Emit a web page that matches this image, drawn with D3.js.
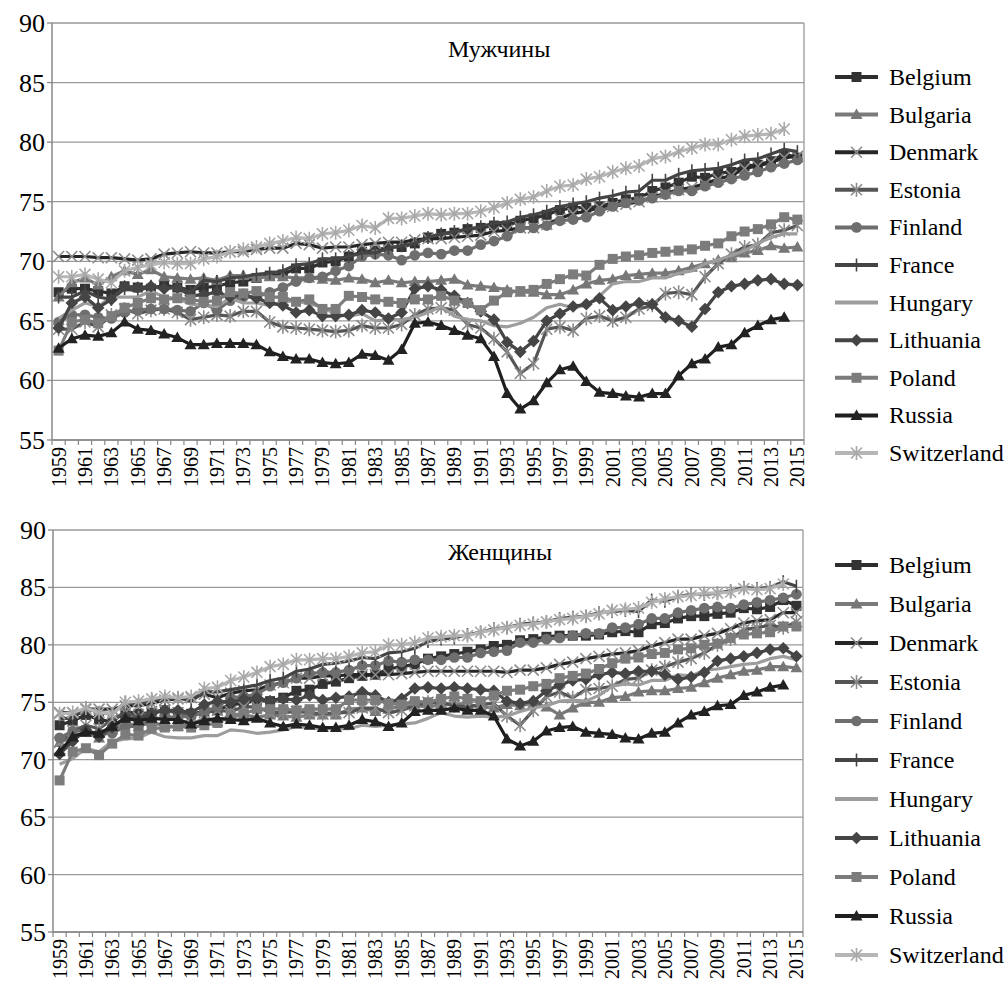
<!DOCTYPE html>
<html>
<head>
<meta charset="utf-8">
<script src="https://cdn.jsdelivr.net/npm/d3@7"></script>
</head>
<body style="margin:0">
<div class="plot"></div>
<script>
// Years on the x axis
const years = [1959,1960,1961,1962,1963,1964,1965,1966,1967,1968,1969,1970,1971,1972,1973,1974,1975,1976,1977,1978,1979,
  1980,1981,1982,1983,1984,1985,1986,1987,1988,1989,1990,1991,1992,1993,1994,1995,1996,1997,1998,1999,
  2000,2001,2002,2003,2004,2005,2006,2007,2008,2009,2010,2011,2012,2013,2014,2015];
const yTicks = [55, 60, 65, 70, 75, 80, 85, 90];
const countries = ["Belgium","Bulgaria","Denmark","Estonia","Finland","France","Hungary","Lithuania","Poland","Russia","Switzerland"];

// Life expectancy, men
const menBelgium = [67.4,67.7,67.7,67.5,67.3,67.9,67.8,67.7,68.0,67.8,67.6,67.8,67.9,68.2,68.3,68.6,68.8,68.9,69.4,69.4,69.9,
  70.0,70.4,70.8,70.9,71.2,71.2,71.5,72.0,72.3,72.4,72.7,72.8,73.0,73.0,73.4,73.6,73.9,74.3,74.5,74.5,
  74.6,74.9,75.2,75.3,75.9,76.2,76.6,77.1,77.0,77.4,77.5,78.0,78.1,78.4,79.0,78.7];
const menBulgaria = [67.0,68.2,68.6,68.0,68.7,69.2,68.9,69.3,68.7,68.6,68.5,68.6,68.4,68.8,68.8,68.6,68.7,68.7,68.6,68.6,68.5,
  68.4,68.6,68.5,68.2,68.4,68.2,68.3,68.3,68.4,68.5,68.0,67.9,67.8,67.6,67.4,67.4,67.2,67.2,67.6,68.1,
  68.4,68.5,68.8,68.9,69.0,69.0,69.2,69.5,69.8,70.1,70.3,70.7,70.9,71.3,71.1,71.2];
const menDenmark = [70.4,70.4,70.4,70.3,70.3,70.2,70.1,70.2,70.6,70.7,70.8,70.7,70.7,70.8,70.8,71.0,71.1,71.1,71.5,71.4,71.1,
  71.2,71.2,71.4,71.5,71.6,71.6,71.8,71.9,71.9,72.0,72.1,72.2,72.5,72.6,72.8,72.8,73.1,73.6,74.0,74.2,
  74.5,74.6,74.8,75.0,75.4,75.7,76.0,76.2,76.5,76.9,77.2,77.8,78.0,78.3,78.7,78.8];
const menEstonia = [64.3,64.3,64.9,64.5,65.5,66.0,65.6,65.9,66.0,65.7,65.1,65.3,65.5,65.4,65.8,65.8,64.9,64.5,64.4,64.3,64.2,
  64.1,64.2,64.6,64.4,64.4,64.7,65.5,66.0,66.1,65.9,64.7,64.4,63.5,62.4,60.6,61.4,64.3,64.5,64.2,65.2,
  65.4,65.0,65.3,66.0,66.3,67.3,67.4,67.2,68.7,69.8,70.6,71.2,71.4,72.4,72.6,73.0];
const menFinland = [64.9,65.5,65.5,65.3,65.2,65.7,65.9,66.0,66.0,65.9,65.8,66.5,65.9,66.7,67.0,67.0,67.4,67.8,68.3,68.6,68.7,
  69.2,69.6,70.4,70.6,70.5,70.1,70.5,70.7,70.6,70.9,70.9,71.4,71.7,72.1,72.8,72.8,73.0,73.4,73.5,73.7,
  74.2,74.6,74.9,75.1,75.3,75.6,75.9,75.9,76.3,76.6,76.9,77.2,77.5,77.9,78.2,78.5];
const menFrance = [67.0,67.0,67.5,67.0,66.8,67.7,67.5,67.9,67.8,67.8,67.4,68.4,68.3,68.6,68.7,68.9,69.0,69.2,69.7,69.8,70.2,
  70.2,70.4,70.7,70.7,71.1,71.3,71.5,72.0,72.3,72.5,72.7,72.9,73.2,73.3,73.7,73.9,74.2,74.6,74.8,75.0,
  75.3,75.5,75.8,75.9,76.8,76.8,77.3,77.6,77.7,77.8,78.1,78.5,78.6,79.0,79.4,79.2];
const menHungary = [65.2,65.9,66.5,66.2,67.0,67.0,67.0,67.5,67.0,66.9,66.4,66.3,66.2,66.9,66.5,66.5,66.3,66.6,66.7,66.4,66.2,
  65.5,65.4,65.6,65.0,65.1,65.1,65.3,65.7,66.2,65.4,65.1,65.0,64.6,64.5,64.8,65.3,66.1,66.4,66.1,66.3,
  67.1,68.1,68.3,68.3,68.6,68.6,69.0,69.2,69.8,70.1,70.5,70.9,71.5,72.0,72.3,72.3];
const menLithuania = [64.4,66.5,67.0,66.1,66.8,67.9,67.8,67.9,67.7,67.8,67.1,67.2,67.4,67.0,67.2,66.9,66.5,66.3,65.7,65.9,65.4,
  65.4,65.5,65.9,65.7,65.2,65.7,67.7,67.9,67.6,67.1,66.5,65.8,65.1,63.2,62.4,63.3,65.0,65.6,66.2,66.4,
  66.9,65.9,66.2,66.5,66.4,65.3,65.0,64.5,66.0,67.4,67.9,68.1,68.4,68.5,68.1,68.0];
const menPoland = [62.5,64.9,65.1,64.8,65.4,66.1,66.5,66.9,66.8,66.9,66.8,66.6,66.7,67.4,67.3,67.5,67.0,67.0,66.6,66.8,66.0,
  66.0,67.1,67.0,66.8,66.6,66.5,66.8,66.8,67.1,66.7,66.5,65.9,66.7,67.4,67.5,67.6,68.1,68.5,68.9,68.8,
  69.7,70.2,70.4,70.5,70.7,70.8,70.9,71.0,71.3,71.5,72.1,72.5,72.7,73.1,73.7,73.5];
const menRussia = [62.7,63.5,63.8,63.7,64.0,64.9,64.3,64.2,63.9,63.6,63.0,63.0,63.1,63.1,63.1,63.0,62.4,62.0,61.8,61.8,61.5,
  61.4,61.5,62.2,62.1,61.7,62.6,64.8,64.9,64.6,64.2,63.8,63.5,62.0,58.9,57.6,58.3,59.8,60.9,61.2,59.9,
  59.0,58.9,58.7,58.6,58.9,58.9,60.4,61.4,61.8,62.8,63.0,64.0,64.6,65.1,65.3,null];
const menSwitzerland = [68.7,68.7,68.9,68.5,68.2,69.2,69.5,69.7,69.9,69.8,69.8,70.2,70.4,70.8,71.0,71.2,71.5,71.7,72.0,71.9,72.3,
  72.4,72.6,73.0,72.8,73.6,73.6,73.8,74.0,73.9,74.0,74.0,74.2,74.5,74.9,75.2,75.4,75.9,76.3,76.4,76.9,
  77.1,77.5,77.8,78.0,78.6,78.8,79.2,79.5,79.8,79.8,80.2,80.5,80.6,80.7,81.1,null];

// Life expectancy, women
const womenBelgium = [73.0,73.4,73.9,73.5,73.3,74.2,74.0,74.1,74.3,74.1,74.0,74.2,74.3,74.8,74.9,75.2,75.1,75.4,76.0,76.1,76.6,
  76.8,77.1,77.3,77.4,77.9,78.1,78.3,78.8,79.0,79.2,79.4,79.6,79.9,80.0,80.4,80.5,80.7,80.8,80.8,80.8,
  80.9,81.1,81.2,81.1,81.8,81.9,82.3,82.5,82.5,82.7,82.8,83.2,83.1,83.3,83.9,83.4];
const womenBulgaria = [71.5,72.0,72.4,71.9,72.6,73.2,72.9,73.3,72.9,72.9,73.1,73.6,73.3,73.7,73.9,73.7,73.9,73.8,73.7,73.9,73.9,
  73.9,74.4,74.5,74.2,74.4,74.7,74.7,74.6,74.8,74.8,74.8,74.6,74.5,74.8,74.7,74.9,74.6,73.9,74.5,75.0,
  75.0,75.4,75.5,75.9,76.0,76.0,76.2,76.3,76.7,77.1,77.4,77.7,77.8,78.1,78.1,78.0];
const womenDenmark = [74.1,74.1,74.4,74.4,74.4,74.7,74.7,74.9,75.2,75.3,75.4,75.7,75.4,75.8,76.0,76.1,76.5,76.7,77.1,77.1,77.3,
  77.3,77.4,77.4,77.4,77.4,77.5,77.6,77.7,77.7,77.7,77.7,77.7,77.7,77.6,77.8,77.8,78.0,78.3,78.5,78.8,
  79.0,79.2,79.3,79.5,79.9,80.2,80.5,80.5,80.8,81.0,81.4,81.9,82.1,82.2,82.8,82.8];
const womenEstonia = [71.5,72.5,73.0,72.7,73.5,74.1,73.7,74.2,74.3,74.1,73.8,74.1,74.3,74.2,74.6,74.6,74.1,74.1,74.2,74.1,74.0,
  74.1,74.1,74.5,74.5,74.1,74.3,74.7,75.0,75.0,74.7,74.6,74.8,74.9,73.8,73.0,74.3,75.5,75.9,75.4,76.1,
  76.2,76.4,77.0,77.1,77.8,78.1,78.5,78.8,79.3,80.0,80.5,81.3,81.5,81.7,81.5,82.0];
const womenFinland = [71.9,72.5,72.5,72.3,72.3,72.9,72.9,73.5,73.7,73.7,73.8,74.2,74.6,75.4,75.5,75.7,76.4,76.7,77.1,77.5,77.6,
  77.6,77.8,78.2,78.2,78.6,78.5,78.7,78.7,78.7,78.9,78.9,79.3,79.4,79.5,80.2,80.2,80.5,80.6,80.8,81.0,
  81.0,81.5,81.5,81.8,82.3,82.3,82.8,83.0,83.2,83.3,83.2,83.5,83.7,83.9,84.1,84.4];
const womenFrance = [73.6,73.6,74.5,74.1,74.0,75.0,74.8,75.2,75.3,75.4,75.1,75.9,75.9,76.1,76.3,76.5,76.9,77.1,77.7,77.9,78.3,
  78.4,78.6,78.9,78.8,79.3,79.4,79.7,80.3,80.5,80.6,80.9,81.1,81.4,81.5,81.8,81.9,82.0,82.3,82.4,82.5,
  82.8,82.9,83.0,82.9,83.9,83.8,84.2,84.4,84.4,84.5,84.7,85.0,84.9,85.0,85.5,85.1];
const womenHungary = [69.6,70.1,71.0,70.7,71.6,71.8,71.9,72.4,72.0,71.9,71.9,72.1,72.1,72.6,72.5,72.3,72.4,72.6,72.9,72.8,72.7,
  72.7,72.7,73.0,72.9,73.0,73.1,73.2,73.6,74.1,73.8,73.7,73.8,73.7,73.8,74.2,74.5,74.7,75.1,75.2,75.1,
  75.6,76.4,76.6,76.5,76.9,76.9,77.4,77.3,77.8,77.9,78.1,78.3,78.4,78.8,79.0,78.7];
const womenLithuania = [70.5,71.6,72.6,72.0,72.8,73.7,73.5,74.0,74.3,74.3,74.1,74.8,75.1,75.0,75.3,75.4,75.1,75.3,75.2,75.6,75.2,
  75.4,75.5,75.9,75.6,75.0,75.3,76.2,76.3,76.2,76.3,76.2,76.1,76.0,75.1,74.9,75.1,76.0,76.5,76.9,77.0,
  77.4,77.6,77.5,77.7,77.7,77.4,77.0,77.2,77.6,78.6,78.8,79.0,79.3,79.6,79.7,79.0];
const womenPoland = [68.2,70.7,71.0,70.4,71.4,72.2,72.1,72.7,72.8,72.9,72.8,73.0,73.2,73.9,74.0,74.4,74.4,74.4,74.3,74.4,74.4,
  74.4,75.2,75.2,75.2,74.9,74.8,75.1,75.0,75.3,75.5,75.3,75.1,75.6,76.0,76.1,76.4,76.6,77.1,77.3,77.5,
  77.9,78.4,78.8,78.9,79.2,79.3,79.6,79.7,80.0,80.1,80.6,80.9,81.0,81.1,81.6,81.6];
const womenRussia = [70.7,72.0,72.4,72.3,72.9,73.6,73.4,73.6,73.5,73.5,73.1,73.4,73.6,73.5,73.4,73.6,73.2,72.9,73.1,73.0,72.8,
  72.8,73.0,73.5,73.3,72.9,73.2,74.2,74.3,74.3,74.5,74.3,74.3,73.8,71.8,71.2,71.6,72.5,72.8,72.9,72.4,
  72.3,72.2,71.9,71.8,72.3,72.4,73.2,73.9,74.2,74.7,74.8,75.6,75.9,76.3,76.5,null];
const womenSwitzerland = [74.0,74.1,74.5,74.1,74.0,75.0,75.1,75.3,75.5,75.4,75.5,76.2,76.3,76.9,77.2,77.6,78.1,78.3,78.7,78.7,78.8,
  78.8,79.0,79.3,79.4,80.0,80.0,80.2,80.6,80.7,80.8,80.8,81.1,81.3,81.5,81.7,81.8,82.0,82.2,82.3,82.5,
  82.7,83.0,83.1,83.2,83.7,84.0,84.2,84.3,84.5,84.5,84.6,84.9,84.8,84.9,85.3,null];

const menSeries = [menBelgium, menBulgaria, menDenmark, menEstonia, menFinland, menFrance, menHungary, menLithuania, menPoland, menRussia, menSwitzerland];
const womenSeries = [womenBelgium, womenBulgaria, womenDenmark, womenEstonia, womenFinland, womenFrance, womenHungary, womenLithuania, womenPoland, womenRussia, womenSwitzerland];

// Grey styles per country
const lineColors = ["#2e2e2e","#7a7a7a","#262626","#555555","#6e6e6e","#444444","#9d9d9d","#454545","#7c7c7c","#1f1f1f","#b6b6b6"];
const markerColors = ["#333333","#777777","#8c8c8c","#8a8a8a","#6e6e6e","#444444","none","#454545","#7c7c7c","#222222","#a8a8a8"];
const markerShapes = ["square","triangle","x","star","circle","plus","none","diamond","square","triangle","star"];

const shapes = {
  square: "M-5,-5H5V5H-5Z",
  triangle: "M0,-6L6,4.5H-6Z",
  circle: d3.symbol(d3.symbolCircle, 90)(),
  diamond: "M0,-6.3L6.3,0L0,6.3L-6.3,0Z",
  x: "M-5.5,-5.5L5.5,5.5M-5.5,5.5L5.5,-5.5",
  star: "M-5.5,-5.5L5.5,5.5M-5.5,5.5L5.5,-5.5M0,-7V7",
  plus: "M0,-6.5V6.5"
};
const strokeShapes = ["x", "star", "plus"];

const svg = d3.select(".plot")
  .append("svg")
    .attr("width", 1006)
    .attr("height", 981);

// plain text, serif face set on the element
function label(parent, str, size) {
  return parent.append("text")
    .style("font-family", "'Liberation Serif'")
    .style("font-size", size + "px")
    .text(str);
}

function drawMarker(g, shape, color, x, y) {
  if (shape === "none") return;
  const p = g.append("path")
    .attr("d", shapes[shape])
    .attr("transform", "translate(" + x + "," + y + ")");
  if (strokeShapes.includes(shape)) {
    p.attr("fill", "none").attr("stroke", color).attr("stroke-width", 1.6);
  } else {
    p.attr("fill", color);
  }
}

function drawPanel(opt) {
  const g = svg.append("g");
  const x = d3.scaleBand().domain(years).range([opt.left, opt.right]);
  const y = d3.scaleLinear().domain([55, 90]).range([opt.bottom, opt.top]);
  const cx = d => x(d) + x.bandwidth() / 2;

  // gridlines
  g.selectAll(".grid")
    .data(yTicks)
    .enter()
    .append("line")
      .attr("x1", opt.left)
      .attr("x2", opt.right)
      .attr("y1", d => y(d))
      .attr("y2", d => y(d))
      .attr("stroke", "#9a9a9a")
      .attr("stroke-width", 1.3);

  // right border
  g.append("line")
    .attr("x1", opt.right).attr("x2", opt.right)
    .attr("y1", opt.top).attr("y2", opt.bottom)
    .attr("stroke", "#9a9a9a").attr("stroke-width", 1.3);

  // y axis line and ticks
  g.append("line")
    .attr("x1", opt.left).attr("x2", opt.left)
    .attr("y1", opt.top).attr("y2", opt.bottom)
    .attr("stroke", "#888").attr("stroke-width", 1.5);
  yTicks.forEach(t => {
    g.append("line")
      .attr("x1", opt.left - 5).attr("x2", opt.left)
      .attr("y1", y(t)).attr("y2", y(t))
      .attr("stroke", "#888").attr("stroke-width", 1.3);
    label(g, t, 26)
      .attr("x", opt.left - 7)
      .attr("y", y(t) + 9)
      .attr("text-anchor", "end");
  });

  // x axis: ticks on category boundaries
  g.append("line")
    .attr("x1", opt.left).attr("x2", opt.right)
    .attr("y1", opt.bottom).attr("y2", opt.bottom)
    .attr("stroke", "#888").attr("stroke-width", 1.5);
  g.selectAll(".xtick")
    .data(years.concat(["end"]))
    .enter()
    .append("line")
      .attr("x1", d => d === "end" ? opt.right : x(d))
      .attr("x2", d => d === "end" ? opt.right : x(d))
      .attr("y1", opt.bottom)
      .attr("y2", opt.bottom + 5)
      .attr("stroke", "#888")
      .attr("stroke-width", 1.2);
  years.filter(d => d % 2 === 1).forEach(d => {
    label(g, d, 20)
      .attr("transform", "translate(" + (cx(d) + 7) + "," + (opt.bottom + 7) + ") rotate(-90)")
      .attr("text-anchor", "end");
  });

  // title
  label(g, opt.title, 24)
    .attr("x", 448)
    .attr("y", opt.titleY);

  // series
  const line = d3.line()
    .defined(v => v !== null)
    .x((v, i) => cx(years[i]))
    .y(v => y(v));

  opt.series.forEach((vals, k) => {
    const s = g.append("g");
    s.append("path")
      .datum(vals)
      .attr("d", line)
      .attr("fill", "none")
      .attr("stroke", lineColors[k])
      .attr("stroke-width", 3.2)
      .attr("stroke-linejoin", "round");
    vals.forEach((v, i) => {
      if (v !== null) drawMarker(s, markerShapes[k], markerColors[k], cx(years[i]), y(v));
    });
  });

  // legend
  const legend = g.append("g");
  countries.forEach((c, k) => {
    const ly = opt.legendY + k * opt.legendStep;
    legend.append("line")
      .attr("x1", 835).attr("x2", 878)
      .attr("y1", ly).attr("y2", ly)
      .attr("stroke", lineColors[k])
      .attr("stroke-width", 4);
    drawMarker(legend, markerShapes[k], markerColors[k], 856.5, ly);
    label(legend, c, 24)
      .attr("x", 889)
      .attr("y", ly + 8);
  });
}

drawPanel({left: 52, right: 804, top: 23, bottom: 440, title: "Мужчины", titleY: 57,
  series: menSeries, legendY: 77, legendStep: 37.6});
drawPanel({left: 53, right: 803, top: 530, bottom: 932, title: "Женщины", titleY: 560,
  series: womenSeries, legendY: 565, legendStep: 39});
</script>
</body>
</html>
